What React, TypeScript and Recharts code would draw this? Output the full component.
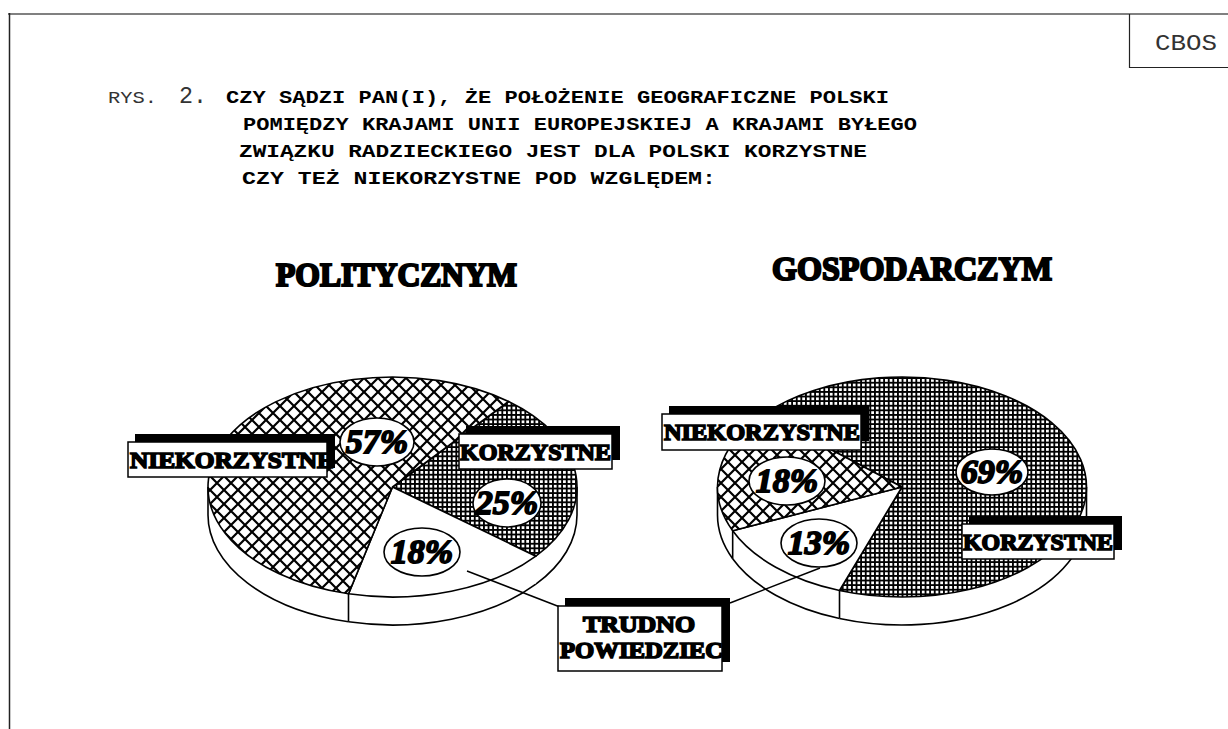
import { PieChart, Pie, Cell } from 'recharts'

const WIDTH = 1228
const HEIGHT = 729

// answers in drawing order, clockwise from the start angle
const answers = ['KORZYSTNE', 'TRUDNO POWIEDZIEC', 'NIEKORZYSTNE']
const politicalValues = [25, 18, 57]
const economicValues = [69, 13, 18]
const answerPatterns = ['url(#grid)', '#ffffff', 'url(#cross)']

const headingLines = [
  'POMIĘDZY KRAJAMI UNII EUROPEJSKIEJ A KRAJAMI BYŁEGO',
  'ZWIĄZKU RADZIECKIEGO JEST DLA POLSKI KORZYSTNE',
  'CZY TEŻ NIEKORZYSTNE POD WZGLĘDEM:',
]

const politicalData = answers.map((name, i) => ({ name, value: politicalValues[i] }))
const economicData = answers.map((name, i) => ({ name, value: economicValues[i] }))

const SQUASH = 110 / 184.5
const DEPTH = 28
const RADIUS = 184.5

const serif = '"Liberation Serif", serif'
const mono = '"Liberation Mono", monospace'

function point(cx: number, cy: number, angle: number) {
  const rad = (angle * Math.PI) / 180
  return { x: cx + RADIUS * Math.cos(rad), y: cy - RADIUS * SQUASH * Math.sin(rad) }
}

function TopSlice(props: any) {
  const { cx, cy, startAngle, endAngle, fill } = props
  const a = point(cx, cy, startAngle)
  const b = point(cx, cy, endAngle)
  const large = Math.abs(startAngle - endAngle) > 180 ? 1 : 0
  const d = `M${cx},${cy} L${a.x},${a.y} A${RADIUS},${RADIUS * SQUASH} 0 ${large} 1 ${b.x},${b.y} Z`
  return <path d={d} fill={fill} stroke="#000" strokeWidth={1.6} strokeLinejoin="round" />
}

// side wall of a slice: only the part that faces the viewer
function wallShape(edges: string[]) {
  return function WallSlice(props: any) {
    const { cx, cy, startAngle, endAngle, name } = props
    const hi = Math.max(startAngle, endAngle)
    const lo = Math.min(startAngle, endAngle)
    const parts = []
    for (let turn = -360; turn <= 360; turn += 360) {
      const from = Math.min(hi, turn)
      const to = Math.max(lo, turn - 180)
      if (from <= to) continue
      const a = point(cx, cy, from)
      const b = point(cx, cy, to)
      const rx = RADIUS
      const ry = RADIUS * SQUASH
      parts.push(
        <g key={turn}>
          <path
            d={`M${a.x},${a.y} A${rx},${ry} 0 0 1 ${b.x},${b.y} L${b.x},${b.y + DEPTH} A${rx},${ry} 0 0 0 ${a.x},${a.y + DEPTH} Z`}
            fill="#fff"
            stroke="none"
          />
          <path
            d={`M${a.x},${a.y + DEPTH} A${rx},${ry} 0 0 1 ${b.x},${b.y + DEPTH}`}
            fill="none"
            stroke="#000"
            strokeWidth={1.6}
          />
          {from === turn && <line x1={a.x} y1={a.y} x2={a.x} y2={a.y + DEPTH} stroke="#000" strokeWidth={1.6} />}
          {to === turn - 180 && <line x1={b.x} y1={b.y} x2={b.x} y2={b.y + DEPTH} stroke="#000" strokeWidth={1.6} />}
          {from === hi && edges.includes(name) && (
            <line x1={a.x} y1={a.y} x2={a.x} y2={a.y + DEPTH} stroke="#000" strokeWidth={1.6} />
          )}
        </g>
      )
    }
    return <g>{parts}</g>
  }
}

const PoliticalWall = wallShape(['NIEKORZYSTNE'])
const EconomicWall = wallShape(['TRUDNO POWIEDZIEC', 'NIEKORZYSTNE'])

function BoxLabel({ x, y, w, h, lines }: { x: number; y: number; w: number; h: number; lines: { t: string; x: number; w: number; y: number }[] }) {
  return (
    <g>
      <rect x={x + 7} y={y - 8} width={w + 1} height={h - 1} fill="#000" />
      <rect x={x} y={y} width={w} height={h} fill="#fff" stroke="#000" strokeWidth={1.5} />
      {lines.map((l) => (
        <text
          key={l.t}
          x={l.x}
          y={l.y}
          textLength={l.w}
          lengthAdjust="spacingAndGlyphs"
          fontFamily={serif}
          fontWeight={700}
          fontSize={24}
          fill="#000"
          stroke="#000"
          strokeWidth={1.7}
        >
          {l.t}
        </text>
      ))}
    </g>
  )
}

function Percent({ x, y, rx, ry, value }: { x: number; y: number; rx: number; ry: number; value: number }) {
  return (
    <g>
      <ellipse cx={x} cy={y} rx={rx} ry={ry} fill="#fff" stroke="#000" strokeWidth={1.6} />
      <text
        x={x}
        y={y + 11}
        textAnchor="middle"
        fontFamily={serif}
        fontWeight={700}
        fontStyle="italic"
        fontSize={34}
        fill="#000"
        stroke="#000"
        strokeWidth={1.8}
      >
        {value}%
      </text>
    </g>
  )
}

function Overlay() {
  const headingX = [243, 239, 242]
  const headingW = [674, 628, 474]
  const headingY = [130, 157, 184]
  return (
    <svg width={WIDTH} height={HEIGHT} style={{ position: 'absolute', left: 0, top: 0 }}>
      <line x1={8} y1={14} x2={WIDTH} y2={14} stroke="#808080" strokeWidth={2} />
      <line x1={9.5} y1={13} x2={9.5} y2={HEIGHT} stroke="#222" strokeWidth={1.5} />
      <path d={`M1129.5,14 V67.5 H${WIDTH}`} fill="none" stroke="#222" strokeWidth={1.2} />
      <text x={1155} y={50} textLength={62} lengthAdjust="spacingAndGlyphs" fontFamily={mono} fontSize={22} fill="#333">CBOS</text>

      <text x={108} y={103} textLength={49} lengthAdjust="spacingAndGlyphs" fontFamily={mono} fontSize={17} fill="#333">RYS.</text>
      <text x={179} y={103} textLength={28} lengthAdjust="spacingAndGlyphs" fontFamily={mono} fontSize={24} fill="#333">2.</text>
      <text x={226} y={103} textLength={663} lengthAdjust="spacingAndGlyphs" fontFamily={mono} fontWeight={700} fontSize={18} fill="#000">
        CZY SĄDZI PAN(I), ŻE POŁOŻENIE GEOGRAFICZNE POLSKI
      </text>
      {headingLines.map((t, i) => (
        <text key={t} x={headingX[i]} y={headingY[i]} textLength={headingW[i]} lengthAdjust="spacingAndGlyphs" fontFamily={mono} fontWeight={700} fontSize={18} fill="#000">
          {t}
        </text>
      ))}

      <text x={276} y={286} textLength={241} lengthAdjust="spacingAndGlyphs" fontFamily={serif} fontWeight={700} fontSize={34} stroke="#000" strokeWidth={2.2}>POLITYCZNYM</text>
      <text x={772} y={280} textLength={280} lengthAdjust="spacingAndGlyphs" fontFamily={serif} fontWeight={700} fontSize={34} stroke="#000" strokeWidth={2.2}>GOSPODARCZYM</text>

      <line x1={467} y1={571} x2={560} y2={607} stroke="#000" strokeWidth={1.5} />
      <line x1={820} y1={568} x2={730} y2={603} stroke="#000" strokeWidth={1.5} />

      <Percent x={377} y={442} rx={37} ry={24} value={politicalValues[2]} />
      <Percent x={507} y={503} rx={34} ry={24} value={politicalValues[0]} />
      <Percent x={422} y={552} rx={38} ry={24} value={politicalValues[1]} />
      <Percent x={992} y={472} rx={36} ry={23} value={economicValues[0]} />
      <Percent x={787} y={481} rx={38} ry={24} value={economicValues[2]} />
      <Percent x={819} y={543} rx={38} ry={24} value={economicValues[1]} />

      <BoxLabel x={128} y={442} w={199} h={35} lines={[{ t: 'NIEKORZYSTNE', x: 130, w: 204, y: 468 }]} />
      <BoxLabel x={459} y={434} w={153} h={35} lines={[{ t: 'KORZYSTNE', x: 460, w: 151, y: 460 }]} />
      <BoxLabel x={662} y={414} w={199} h={36} lines={[{ t: 'NIEKORZYSTNE', x: 664, w: 196, y: 440 }]} />
      <BoxLabel x={962} y={524} w={152} h={35} lines={[{ t: 'KORZYSTNE', x: 963, w: 150, y: 550 }]} />
      <BoxLabel
        x={558}
        y={606}
        w={164}
        h={65}
        lines={[
          { t: 'TRUDNO', x: 583, w: 112, y: 632 },
          { t: 'POWIEDZIEC', x: 560, w: 163, y: 658 },
        ]}
      />
    </svg>
  )
}

export default function App() {
  return (
    <div style={{ position: 'absolute', left: 0, top: 0, width: WIDTH, height: HEIGHT, background: '#fff' }}>
      <PieChart width={WIDTH} height={HEIGHT} margin={{ top: 0, right: 0, bottom: 0, left: 0 }}>
        <defs>
          <pattern id="grid" width={4.6} height={4.6} patternUnits="userSpaceOnUse">
            <rect width={4.6} height={4.6} fill="#fff" />
            <path d="M0,0.9 H4.6 M0.9,0 V4.6" stroke="#000" strokeWidth={1.9} />
          </pattern>
          <pattern id="cross" width={14} height={14} patternUnits="userSpaceOnUse">
            <rect width={14} height={14} fill="#fff" />
            <path d="M0,0 L14,14 M14,0 L0,14" stroke="#000" strokeWidth={2.2} />
          </pattern>
        </defs>
        <Pie data={politicalData} dataKey="value" nameKey="name" cx={392.5} cy={487} outerRadius={RADIUS} startAngle={51} endAngle={-309} shape={PoliticalWall} isAnimationActive={false} />
        <Pie data={economicData} dataKey="value" nameKey="name" cx={902} cy={487} outerRadius={RADIUS} startAngle={138.6} endAngle={-221.4} shape={EconomicWall} isAnimationActive={false} />
        <Pie data={politicalData} dataKey="value" nameKey="name" cx={392.5} cy={487} outerRadius={RADIUS} startAngle={51} endAngle={-309} shape={TopSlice} isAnimationActive={false}>
          {politicalData.map((d, i) => (
            <Cell key={d.name} fill={answerPatterns[i]} />
          ))}
        </Pie>
        <Pie data={economicData} dataKey="value" nameKey="name" cx={902} cy={487} outerRadius={RADIUS} startAngle={138.6} endAngle={-221.4} shape={TopSlice} isAnimationActive={false}>
          {economicData.map((d, i) => (
            <Cell key={d.name} fill={answerPatterns[i]} />
          ))}
        </Pie>
      </PieChart>
      <Overlay />
    </div>
  )
}
